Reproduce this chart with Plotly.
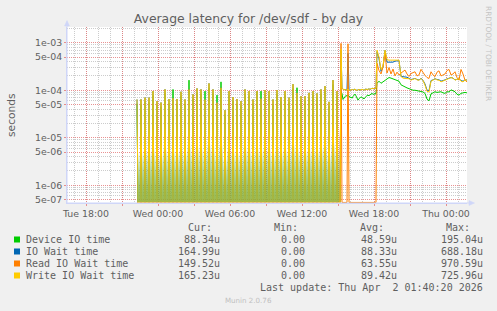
import plotly.graph_objects as go
import pandas as pd

# ---------------- data (seconds) ----------------
# Segment A: periodic bursts, one every 20 minutes, idle (0) in between (5-min samples)
SPIKE_START = "2026-03-31 22:15"
write_spikes = [6.4e-5, 6.4e-5, 7.0e-5, 7.0e-5, 9.6e-5, 5.9e-5, 5.5e-5, 1.04e-4, 6.5e-5, 6.8e-5,
                6.5e-5, 9.3e-5, 6.4e-5, 1.04e-4, 8.2e-5, 1.09e-4, 1.04e-4, 6.4e-5, 1.39e-4, 1.04e-4,
                5.5e-5, 1.13e-4, 3.8e-5, 9.6e-5, 7.2e-5, 6.5e-5, 5.9e-5, 1.04e-4, 9.6e-5, 6.4e-5,
                9.6e-5, 6.7e-5, 1.01e-4, 9.6e-5, 6.4e-5, 1.01e-4, 7.2e-5, 9.6e-5, 7.0e-5, 1.34e-4,
                8.8e-5, 7.5e-5, 7.5e-5, 8.8e-5, 9.6e-5, 8.6e-5, 1.04e-4, 1.22e-4, 5.7e-5, 1.63e-4]
device_spikes = [5.2e-5, 5.0e-5, 5.8e-5, 5.6e-5, 7.8e-5, 4.8e-5, 4.5e-5, 8.6e-5, 5.3e-5, 1.04e-4,
                 5.2e-5, 7.6e-5, 5.1e-5, 1.63e-4, 6.6e-5, 8.9e-5, 8.4e-5, 9.6e-5, 1.12e-4, 8.5e-5,
                 7.9e-5, 1.50e-4, 3.1e-5, 7.8e-5, 5.9e-5, 5.2e-5, 4.8e-5, 8.5e-5, 7.7e-5, 5.2e-5,
                 9.4e-5, 9.6e-5, 8.2e-5, 7.8e-5, 5.1e-5, 8.3e-5, 5.8e-5, 7.8e-5, 5.6e-5, 1.08e-4,
                 1.13e-4, 6.1e-5, 6.0e-5, 7.1e-5, 7.8e-5, 7.0e-5, 8.4e-5, 9.9e-5, 4.6e-5, 1.32e-4]
iowait_spikes = [6.4e-5, 6.4e-5, 7.0e-5, 7.0e-5, 9.6e-5, 5.9e-5, 5.5e-5, 1.04e-4, 6.5e-5, 6.8e-5,
                 6.5e-5, 9.3e-5, 6.4e-5, 1.04e-4, 8.2e-5, 1.09e-4, 1.04e-4, 6.4e-5, 1.39e-4, 1.04e-4,
                 5.5e-5, 1.13e-4, 3.8e-5, 9.6e-5, 7.2e-5, 6.5e-5, 5.9e-5, 1.04e-4, 9.6e-5, 6.4e-5,
                 9.6e-5, 6.7e-5, 1.01e-4, 9.6e-5, 6.4e-5, 1.01e-4, 7.2e-5, 9.6e-5, 7.0e-5, 1.34e-4,
                 8.8e-5, 7.5e-5, 7.5e-5, 8.8e-5, 9.6e-5, 8.6e-5, 1.04e-4, 1.22e-4, 5.7e-5, 1.63e-4]
read_spikes = [0.0] * 50

# Segment B: 5-min samples
B_START = "2026-04-01 14:55"
B_write = [9.6e-5, 0, 0, 0, 7.3e-4, 1.10e-4, 1.06e-4, 1.02e-4, 1.04e-4, 1.00e-4,
           1.03e-4, 1.05e-4, 1.01e-4, 9.8e-5, 1.02e-4, 1.05e-4, 1.00e-4, 1.03e-4, 1.06e-4, 1.01e-4,
           9.9e-5, 1.02e-4, 1.04e-4, 1.00e-4, 1.03e-4, 1.05e-4, 1.02e-4, 1.00e-4, 1.04e-4, 1.06e-4,
           1.03e-4, 1.05e-4, 1.07e-4, 1.04e-4, 1.08e-4, 1.10e-4, 1.09e-4, 1.07e-4, 1.10e-4, 1.11e-4]
B_read = [0, 0, 0, 0, 9.7e-4, 0, 0, 0, 0, 0,
          0, 9.5e-4, 0, 0, 0, 0, 0, 0, 0, 0,
          0, 0, 0, 0, 0, 0, 0, 0, 0, 0,
          0, 0, 0, 0, 0, 0, 0, 0, 0, 0]
B_device = [7.5e-5, 0, 0, 0, 9.5e-5, 8.5e-5, 6.4e-5, 7.0e-5, 7.2e-5, 7.8e-5,
            7.5e-5, 7.9e-5, 7.6e-5, 7.0e-5, 7.2e-5, 6.8e-5, 7.4e-5, 8.0e-5, 8.3e-5, 7.6e-5,
            6.9e-5, 6.2e-5, 6.6e-5, 7.0e-5, 7.3e-5, 7.0e-5, 6.8e-5, 6.6e-5, 6.9e-5, 7.4e-5,
            7.8e-5, 7.9e-5, 7.6e-5, 8.0e-5, 8.5e-5, 8.6e-5, 8.2e-5, 8.4e-5, 8.6e-5, 8.5e-5]
B_iowait = [9.6e-5, 0, 0, 0, 6.9e-4, 1.10e-4, 1.06e-4, 1.02e-4, 1.04e-4, 1.00e-4,
            1.03e-4, 6.0e-4, 1.01e-4, 9.8e-5, 1.02e-4, 1.05e-4, 1.00e-4, 1.03e-4, 1.06e-4, 1.01e-4,
            9.9e-5, 1.02e-4, 1.04e-4, 1.00e-4, 1.03e-4, 1.05e-4, 1.02e-4, 1.00e-4, 1.04e-4, 1.06e-4,
            1.03e-4, 1.05e-4, 1.07e-4, 1.04e-4, 1.08e-4, 1.10e-4, 1.09e-4, 1.07e-4, 1.10e-4, 1.11e-4]

# Segment C: 10-min samples
C_START = "2026-04-01 18:15"
C_write = [7.0e-4, 5.0e-4, 2.7e-4, 3.2e-4, 7.0e-4, 4.4e-4, 4.3e-4, 4.3e-4, 4.3e-4, 4.3e-4,
           4.3e-4, 4.3e-4, 1.95e-4, 1.80e-4, 1.77e-4, 1.77e-4, 1.75e-4, 1.63e-4, 1.70e-4, 1.77e-4,
           1.65e-4, 1.63e-4, 1.77e-4, 1.60e-4, 1.28e-4, 9.5e-5, 9.2e-5, 1.55e-4, 1.63e-4, 1.75e-4,
           1.65e-4, 1.63e-4, 1.50e-4, 1.55e-4, 1.63e-4, 1.72e-4, 1.77e-4, 1.85e-4, 1.80e-4, 1.63e-4,
           1.70e-4, 1.77e-4, 1.55e-4, 1.50e-4, 1.63e-4, 1.65e-4]
C_read = [3.7e-4, 2.6e-4, 2.2e-4, 3.1e-4, 6.0e-4, 2.3e-4, 3.0e-4, 2.2e-4, 2.8e-4, 2.0e-4,
          2.4e-4, 2.1e-4, 2.3e-4, 2.5e-4, 2.66e-4, 2.2e-4, 1.95e-4, 2.25e-4, 2.35e-4, 2.45e-4,
          2.0e-4, 2.1e-4, 2.75e-4, 2.3e-4, 2.05e-4, 1.85e-4, 1.77e-4, 2.45e-4, 2.1e-4, 1.93e-4,
          2.4e-4, 2.56e-4, 2.0e-4, 2.1e-4, 2.2e-4, 2.6e-4, 2.74e-4, 2.1e-4, 2.2e-4, 2.45e-4,
          1.85e-4, 1.63e-4, 2.74e-4, 2.2e-4, 1.63e-4, 1.50e-4]
C_device = [1.40e-4, 1.55e-4, 1.40e-4, 1.50e-4, 1.65e-4, 1.75e-4, 1.85e-4, 1.80e-4, 1.75e-4, 1.70e-4,
            1.65e-4, 1.55e-4, 1.30e-4, 1.22e-4, 1.18e-4, 1.12e-4, 1.08e-4, 1.02e-4, 1.00e-4, 1.00e-4,
            9.8e-5, 9.7e-5, 9.4e-5, 9.2e-5, 8.6e-5, 6.5e-5, 6.0e-5, 8.4e-5, 8.8e-5, 9.3e-5,
            9.0e-5, 9.0e-5, 9.3e-5, 8.8e-5, 8.6e-5, 9.3e-5, 9.2e-5, 1.02e-4, 9.8e-5, 9.3e-5,
            8.2e-5, 7.9e-5, 8.6e-5, 8.8e-5, 9.0e-5, 8.8e-5]
C_iowait = [6.5e-4, 4.6e-4, 2.5e-4, 3.1e-4, 6.9e-4, 3.9e-4, 3.9e-4, 3.9e-4, 3.9e-4, 4.1e-4,
            4.2e-4, 4.2e-4, 1.95e-4, 1.92e-4, 1.90e-4, 1.88e-4, 1.78e-4, 1.68e-4, 1.72e-4, 1.78e-4,
            1.68e-4, 1.64e-4, 1.78e-4, 1.62e-4, 1.35e-4, 1.0e-4, 9.8e-5, 1.6e-4, 1.65e-4, 1.75e-4,
            1.68e-4, 1.66e-4, 1.55e-4, 1.58e-4, 1.65e-4, 1.73e-4, 1.78e-4, 1.85e-4, 1.80e-4, 1.65e-4,
            1.70e-4, 1.75e-4, 1.6e-4, 1.55e-4, 1.63e-4, 1.65e-4]

series_names = ["Device IO time", "IO Wait time", "Read IO Wait time", "Write IO Wait time"]
series_colors = ["#00CC00", "#0066B3", "#FF8000", "#FFCC00"]
cur_text = ["88.34u", "164.99u", "149.52u", "165.23u"]
min_text = ["0.00", "0.00", "0.00", "0.00"]
avg_text = ["48.59u", "88.33u", "63.55u", "89.42u"]
max_text = ["195.04u", "688.18u", "970.59u", "725.96u"]

x_grid_major = ["2026-03-31 18:00", "2026-03-31 21:00", "2026-04-01 00:00", "2026-04-01 03:00",
                "2026-04-01 06:00", "2026-04-01 09:00", "2026-04-01 12:00", "2026-04-01 15:00",
                "2026-04-01 18:00", "2026-04-01 21:00", "2026-04-02 00:00"]
x_grid_text = ["Tue 18:00", "", "Wed 00:00", "", "Wed 06:00", "", "Wed 12:00", "",
               "Wed 18:00", "", "Thu 00:00"]
y_tick_vals = [5e-7, 1e-6, 5e-6, 1e-5, 5e-5, 1e-4, 5e-4, 1e-3]
y_tick_text = ["5e-07", "1e-06", "5e-06", "1e-05", "5e-05", "1e-04", "5e-04", "1e-03"]

X_RANGE = ["2026-03-31 16:25", "2026-04-02 01:45"]
Y_RANGE = [-6.3734, -2.669]

# ---------------- geometry ----------------
W, H = 497, 311
ML, MR, MT, MB = 67, 30, 27, 108
PW, PH = W - ML - MR, H - MT - MB


def fx(px):
    return (px - ML) / PW


def fy(py):
    return (H - MB - py) / PH


FLOOR = 10 ** (Y_RANGE[0] + 0.012)   # zero drawn on the bottom edge like rrdtool


def expand(peaks):
    out = []
    for p in peaks:
        out += [p, 0.0, 0.0, 0.0]
    return out


tA = list(pd.date_range(SPIKE_START, periods=4 * len(write_spikes), freq="5min"))
tB = list(pd.date_range(B_START, periods=len(B_write), freq="5min"))
tC = list(pd.date_range(C_START, periods=len(C_write), freq="10min"))
times = tA + tB + tC

series_vals = [
    expand(device_spikes) + B_device + C_device,
    expand(iowait_spikes) + B_iowait + C_iowait,
    expand(read_spikes) + B_read + C_read,
    expand(write_spikes) + B_write + C_write,
]

fig = go.Figure()
for name, col, vals in zip(series_names, series_colors, series_vals):
    fig.add_trace(go.Scatter(
        x=times, y=[v if v > 0 else FLOOR for v in vals], mode="lines", name=name,
        line=dict(color=col, width=1), showlegend=False, hoverinfo="skip"))

MAJ = "rgba(225,110,110,0.75)"
MIN = "rgba(170,170,170,0.6)"
AXC = "#CFD6F8"
FONT = "#5f5f5f"

minor_y = [d * 10 ** e for e in range(-7, -2) for d in (2, 3, 4, 6, 7, 8, 9)]

fig.update_layout(
    width=W, height=H, margin=dict(l=ML, r=MR, t=MT, b=MB),
    paper_bgcolor="#F0F0F0", plot_bgcolor="#FFFFFF",
    font=dict(family="DejaVu Sans", color=FONT),
    xaxis=dict(type="date", range=X_RANGE, tickmode="array", tickvals=x_grid_major,
               ticktext=x_grid_text, showgrid=True, gridcolor=MAJ, griddash="1px,1px",
               gridwidth=1, ticks="outside", ticklen=2, tickcolor=MAJ,
               tickfont=dict(size=9.4, color=FONT), showline=True, linecolor=AXC,
               linewidth=1, zeroline=False,
               minor=dict(dtick=3600000, tick0="2026-03-31 00:00", showgrid=True,
                          gridcolor=MIN, griddash="1px,1px", gridwidth=1)),
    yaxis=dict(type="log", range=Y_RANGE, tickmode="array", tickvals=y_tick_vals,
               ticktext=y_tick_text, showgrid=True, gridcolor=MAJ, griddash="1px,1px",
               gridwidth=1, ticks="outside", ticklen=2, tickcolor=MAJ,
               tickfont=dict(size=9.4, color=FONT), showline=True, linecolor=AXC,
               linewidth=1, zeroline=False,
               minor=dict(tickmode="array", tickvals=minor_y, showgrid=True,
                          gridcolor=MIN, griddash="1px,1px", gridwidth=1)),
    title=dict(text="Average latency for /dev/sdf - by day", x=0.5, xref="container",
               xanchor="center", y=1 - 19 / H, yref="container", yanchor="middle",
               font=dict(size=12.4, color=FONT, family="DejaVu Sans")),
)

# axis arrows
shapes = [
    dict(type="line", xref="paper", yref="paper", x0=fx(67), x1=fx(67), y0=fy(203), y1=fy(24),
         line=dict(color=AXC, width=1)),
    dict(type="path", xref="paper", yref="paper",
         path=f"M {fx(64.5)} {fy(26)} L {fx(67)} {fy(20.5)} L {fx(69.5)} {fy(26)} Z",
         fillcolor=AXC, line=dict(color=AXC, width=0.5)),
    dict(type="line", xref="paper", yref="paper", x0=fx(67), x1=fx(471), y0=fy(203), y1=fy(203),
         line=dict(color=AXC, width=1)),
    dict(type="path", xref="paper", yref="paper",
         path=f"M {fx(469)} {fy(200.5)} L {fx(474.5)} {fy(203)} L {fx(469)} {fy(205.5)} Z",
         fillcolor=AXC, line=dict(color=AXC, width=0.5)),
]

ann = []


def text(x, y, s, anchor="left", size=10, color=FONT, family="DejaVu Sans Mono", angle=0):
    ann.append(dict(x=fx(x), y=fy(y), xref="paper", yref="paper", text=s, showarrow=False,
                    xanchor=anchor, yanchor="middle", borderpad=0, borderwidth=0,
                    textangle=angle, font=dict(size=size, color=color, family=family)))


# y-axis title and watermark
text(11, 115, "seconds", anchor="center", size=10.7, family="DejaVu Sans", angle=-90)
text(488.5, 53.5, "RRDTOOL / TOBI OETIKER", anchor="center", size=7.4, color="#C4C4C4",
     family="DejaVu Sans", angle=90)

# legend table
row_y = [239.5, 251.5, 263.5, 275.5]
text(212.3, 227.3, "Cur:", anchor="right")
text(298.3, 227.3, "Min:", anchor="right")
text(384.3, 227.3, "Avg:", anchor="right")
text(470.0, 227.3, "Max:", anchor="right")
for i, name in enumerate(series_names):
    y = row_y[i]
    shapes.append(dict(type="rect", xref="paper", yref="paper", x0=fx(14), x1=fx(20),
                       y0=fy(y + 3), y1=fy(y - 3), fillcolor=series_colors[i],
                       line=dict(width=0)))
    text(26, y, name)
    text(219.7, y, cur_text[i], anchor="right")
    text(305.0, y, min_text[i], anchor="right")
    text(396.7, y, avg_text[i], anchor="right")
    text(482.7, y, max_text[i], anchor="right")
text(482.7, 287.7, "Last update: Thu Apr \u00a02 01:40:20 2026", anchor="right")
text(248.5, 300.5, "Munin 2.0.76", anchor="center", size=7.1, color="#C0C0C0",
     family="DejaVu Sans")

fig.update_layout(shapes=shapes, annotations=ann)
fig.write_html("out.html")
